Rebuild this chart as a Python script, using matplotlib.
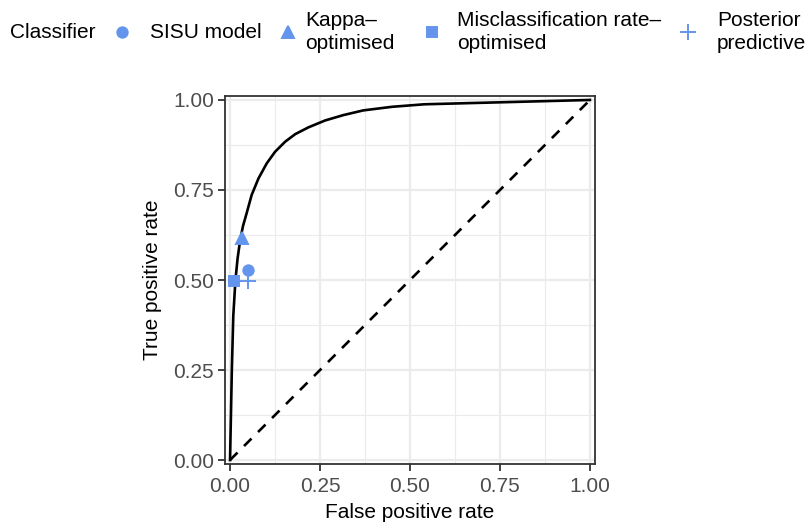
import matplotlib
matplotlib.use("Agg")
import numpy as np
from matplotlib import pyplot
from matplotlib.lines import Line2D

plt = pyplot
plt.rcParams['font.family'] = ['Liberation Sans', 'DejaVu Sans']

# ROC curve
roc_fpr = [0.0, 0.002, 0.005, 0.009, 0.015, 0.021, 0.028, 0.036, 0.046,
           0.060, 0.079, 0.102, 0.125, 0.153, 0.181, 0.218, 0.264, 0.315,
           0.37, 0.45, 0.54, 1.0]
roc_tpr = [0.0, 0.10, 0.25, 0.40, 0.50, 0.56, 0.61, 0.65, 0.685,
           0.736, 0.782, 0.824, 0.856, 0.884, 0.905, 0.924, 0.943, 0.958,
           0.971, 0.981, 0.988, 1.0]

# classifier operating points
classifiers = ["SISU model", "Kappa\u2013\noptimised",
               "Misclassification rate\u2013\noptimised", "Posterior\npredictive"]
cls_fpr = [0.051, 0.032, 0.012, 0.051]
cls_tpr = [0.528, 0.616, 0.497, 0.497]
markers = ["o", "^", "s", "+"]
msizes = [7.5, 9, 7.5, 11]

ticks = [0.0, 0.25, 0.5, 0.75, 1.0]
tick_labels = ["0.00", "0.25", "0.50", "0.75", "1.00"]

blue = "#6495ED"
grid_c = "#EBEBEB"
dark = "#333333"

fig = plt.figure(figsize=(8.11, 5.24), dpi=100)
ax = fig.add_axes([225 / 811, 1 - 464 / 524, 370 / 811, 368 / 524])

ax.set_xlim(-0.014, 1.014)
ax.set_ylim(-0.011, 1.011)
ax.set_xticks(ticks)
ax.set_yticks(ticks)
ax.set_xticklabels(tick_labels)
ax.set_yticklabels(tick_labels)
ax.set_xticks([0.125, 0.375, 0.625, 0.875], minor=True)
ax.set_yticks([0.125, 0.375, 0.625, 0.875], minor=True)
ax.grid(which="major", color=grid_c, lw=1.6)
ax.grid(which="minor", color=grid_c, lw=0.8)
ax.set_axisbelow(True)
ax.tick_params(which="minor", length=0)
ax.tick_params(which="major", length=5, width=1.3, color=dark,
               labelsize=15, labelcolor="#4D4D4D", pad=3)
ax.tick_params(axis="x", pad=4.5)
for s in ax.spines.values():
    s.set_color(dark)
    s.set_linewidth(1.3)

ax.plot([0, 1], [0, 1], color="black", lw=1.9, ls=(0, (4, 3.5)))
ax.plot(roc_fpr, roc_tpr, color="black", lw=1.9, solid_joinstyle="round")

for x, y, m, ms in zip(cls_fpr, cls_tpr, markers, msizes):
    ax.plot(x, y, ls="none", marker=m, ms=ms, color=blue, mew=1.4, zorder=5)

ax.set_xlabel("False positive rate", fontsize=15, labelpad=5)
ax.set_ylabel("True positive rate", fontsize=15, labelpad=8)

# legend along the top
ly = 1 - 32 / 524
fig.text(10 / 811, ly, "Classifier", fontsize=15, va="center", ha="left")
mark_x = [122, 288, 432, 688]
text_x = [150, 305, 457, 717]
for mx, tx, lab, m, ms in zip(mark_x, text_x, classifiers, markers, msizes):
    fig.add_artist(Line2D([mx / 811], [ly], transform=fig.transFigure,
                          ls="none", marker=m, ms=ms, color=blue, mew=1.4))
    fig.text(tx / 811, ly, lab, fontsize=15, va="center", ha="left",
             linespacing=1.25)

fig.savefig("out.png", dpi=100)
